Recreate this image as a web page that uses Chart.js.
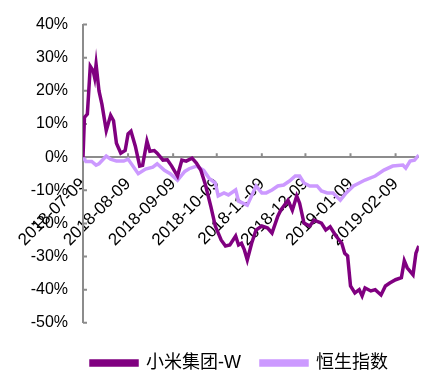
<!DOCTYPE html>
<html>
<head>
<meta charset="utf-8">
<script src="https://cdn.jsdelivr.net/npm/chart.js@4/dist/chart.umd.min.js"></script>
<style>
    html, body { margin: 0; padding: 0; background: #fff; }
    #wrap { width: 427px; height: 371px; }
</style>
</head>
<body>
<div id="wrap"><canvas id="chart" width="427" height="371"></canvas></div>
<script>
// days since 2018-07-09 listing, tick labels at monthly positions
var tickLabels = ['2018-07-09', '2018-08-09', '2018-09-09', '2018-10-09', '2018-11-09', '2018-12-09', '2019-01-09', '2019-02-09'];
var tickDays = [0, 31, 62, 92, 123, 153, 184, 215];

var xiaomiDays = [0, 1, 3, 5, 7, 8, 9, 11, 13, 16, 19, 21, 23, 26, 29, 31, 33, 36, 39, 41, 44, 46, 49, 51, 55, 58, 61, 65, 68, 71, 75, 78, 81, 84, 88, 91, 95, 98, 101, 105, 107, 109, 111, 113, 116, 119, 123, 127, 130, 134, 136, 138, 141, 144, 147, 149, 152, 156, 159, 164, 167, 170, 174, 178, 180, 182, 184, 187, 190, 192, 194, 198, 201, 205, 208, 211, 215, 219, 221, 223, 227, 229, 231];
var xiaomiValues = [0, 12, 13, 27.4, 26, 24, 28, 20, 16, 8, 12.6, 11, 4.2, 1.2, 2, 7, 7.8, 3.3, -2.7, -2.5, 4.8, 1.8, 2, 1.2, -0.9, -0.8, -2.7, -5.7, -0.9, -1.2, -0.3, -1.8, -3.9, -8, -15, -20.8, -25, -26.8, -26.5, -23.8, -26.5, -26, -28, -31, -26, -22, -20.8, -21.4, -22.9, -17.8, -16, -14.8, -13, -16, -11.7, -13.9, -19.9, -20.8, -19, -19.9, -22, -21, -23.8, -26, -29, -29.8, -38.9, -41, -40, -41.9, -39.5, -40.4, -40, -41.6, -38.9, -38, -37, -36.4, -31.3, -33.4, -35.5, -29, -26.8];

var hsiDays = [0, 2, 6, 9, 11, 16, 19, 23, 28, 31, 38, 43, 48, 51, 56, 60, 65, 70, 73, 78, 83, 87, 91, 93, 97, 100, 105, 107, 113, 116, 119, 123, 126, 130, 134, 138, 142, 146, 149, 152, 156, 161, 164, 168, 172, 177, 181, 186, 190, 194, 201, 207, 213, 220, 222, 225, 228, 231];
var hsiValues = [0, -1.3, -1.3, -2.4, -2, 0.3, -0.6, -1.2, -1.2, -0.6, -5, -3.6, -3, -2, -4, -5, -7, -4.3, -3.5, -2.7, -4, -6.5, -7.8, -11.7, -10.8, -11.4, -9.9, -13.3, -14.5, -11.7, -8.7, -10.8, -10.8, -9.9, -8.7, -8.4, -7.2, -5.7, -5.7, -7.8, -8.7, -8.7, -10.2, -10.8, -10.8, -13, -10.8, -8.7, -7.8, -6.9, -5.7, -3.9, -2.7, -2.4, -3.3, -1.2, -0.9, 0.6];

var seriesNames = ['小米集团-W', '恒生指数'];

function toPoints(days, values) {
    return days.map(function (d, i) { return { x: d, y: values[i] }; });
}

var axisColor = '#8c8c8c';
var fontFamily = "'Liberation Sans', Arial, 'Noto Sans CJK SC', sans-serif";

// small inward tick marks like the original
var innerTicks = {
    id: 'innerTicks',
    beforeDatasetsDraw: function (chart) {
        var ctx = chart.ctx;
        var xs = chart.scales.x;
        var ys = chart.scales.y;
        var zero = ys.getPixelForValue(0);
        ctx.save();
        ctx.strokeStyle = axisColor;
        ctx.lineWidth = 2;
        ctx.beginPath();
        ys.ticks.forEach(function (t) {
            var py = ys.getPixelForValue(t.value);
            ctx.moveTo(ys.right, py);
            ctx.lineTo(ys.right + 4, py);
        });
        xs.ticks.forEach(function (t) {
            var px = xs.getPixelForValue(t.value);
            ctx.moveTo(px, zero);
            ctx.lineTo(px, zero - 4);
        });
        ctx.stroke();
        ctx.restore();
    }
};

// legend in the original sits a little right of centre
var shiftLegend = {
    id: 'shiftLegend',
    afterLayout: function (chart) {
        if (chart.legend) {
            chart.legend.left += 26;
            chart.legend.right += 26;
        }
    }
};

new Chart(document.getElementById('chart').getContext('2d'), {
    type: 'line',
    data: {
        datasets: [{
            label: seriesNames[0],
            data: toPoints(xiaomiDays, xiaomiValues),
            borderColor: '#800080',
            backgroundColor: '#800080',
            borderWidth: 3.5,
            pointRadius: 0,
            tension: 0
        }, {
            label: seriesNames[1],
            data: toPoints(hsiDays, hsiValues),
            borderColor: '#cc99ff',
            backgroundColor: '#cc99ff',
            borderWidth: 3.5,
            pointRadius: 0,
            tension: 0
        }]
    },
    options: {
        responsive: false,
        animation: false,
        layout: { padding: { top: 12, bottom: -11, left: 0, right: 0 } },
        plugins: {
            legend: {
                position: 'bottom',
                title: { display: true, text: ' ', font: { size: 1 }, padding: 5 },
                labels: {
                    boxWidth: 46,
                    boxHeight: 4,
                    padding: 20,
                    color: '#000',
                    font: { family: fontFamily, size: 18 }
                }
            },
            tooltip: { enabled: false }
        },
        scales: {
            x: {
                type: 'linear',
                min: 0,
                max: 231,
                position: { y: 0 },
                z: 1,
                afterBuildTicks: function (scale) {
                    scale.ticks = tickDays.map(function (d) { return { value: d }; });
                },
                afterFit: function (scale) {
                    scale.height = 0;
                },
                ticks: {
                    autoSkip: false,
                    minRotation: 45,
                    maxRotation: 45,
                    padding: 17,
                    color: '#000',
                    font: { family: fontFamily, size: 17 },
                    callback: function (value, index) {
                        return tickLabels[index];
                    }
                },
                grid: { display: true, drawOnChartArea: false, drawTicks: false },
                border: { display: true, color: axisColor, width: 2 }
            },
            y: {
                min: -50,
                max: 40,
                afterFit: function (scale) {
                    scale.width = 83;
                },
                ticks: {
                    stepSize: 10,
                    padding: 15,
                    color: '#000',
                    font: { family: fontFamily, size: 16 },
                    callback: function (value) {
                        return value + '%';
                    }
                },
                grid: { display: true, drawOnChartArea: false, drawTicks: false },
                border: { display: true, color: axisColor, width: 2 }
            }
        }
    },
    plugins: [innerTicks, shiftLegend]
});
</script>
</body>
</html>
